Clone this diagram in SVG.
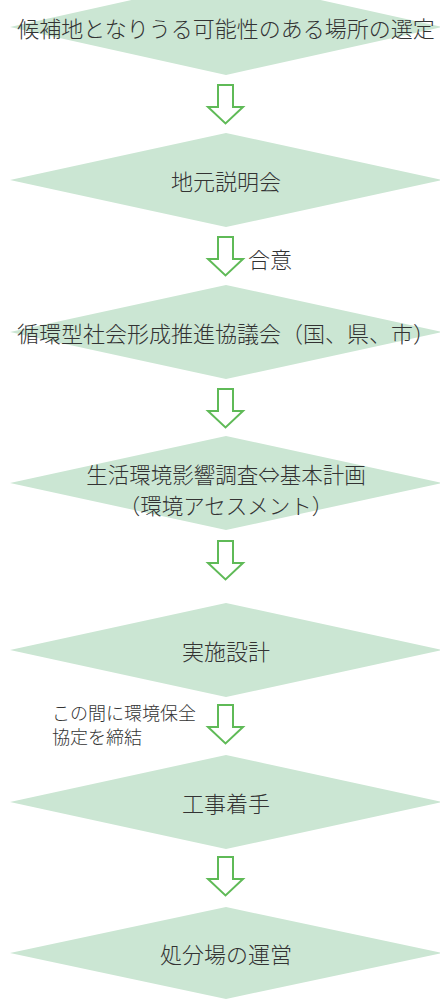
<svg xmlns="http://www.w3.org/2000/svg" width="440" height="999" viewBox="0 0 440 999">
<defs>
<style>
.d{fill:#cbe6d3;stroke:none}
.t{font-family:"Noto Sans CJK JP","Noto Sans",sans-serif;font-weight:300;font-size:22px;fill:#333;text-anchor:middle;dominant-baseline:central}
.n{font-family:"Noto Sans CJK JP","Noto Sans",sans-serif;font-weight:300;font-size:18px;fill:#333;dominant-baseline:central}
.a{fill:#fff;stroke:#5fba57;stroke-width:2;stroke-linejoin:miter}
</style>
<path id="arr" class="a" d="M218,0 H233 V22 H243 L225.5,38.5 L208,22 H218 Z"/>
</defs>
<rect width="440" height="999" fill="#fff"/>
<g id="connectors">
<use href="#arr" y="85"/>
<use href="#arr" y="237"/>
<use href="#arr" y="389"/>
<use href="#arr" y="541"/>
<use href="#arr" y="705"/>
<use href="#arr" y="857"/>
<text class="n" x="248" y="258" style="font-size:22px">合意</text>
<text class="n" x="52" y="712">この間に環境保全</text>
<text class="n" x="52" y="736">協定を締結</text>
</g>
<g id="n1"><polygon class="d" points="10,27 226,-21 442,27 226,75"/><text class="t" x="226" y="27">候補地となりうる可能性のある場所の選定</text></g>
<g id="n2"><polygon class="d" points="10,180 226,133 442,180 226,227"/><text class="t" x="226" y="180">地元説明会</text></g>
<g id="n3"><polygon class="d" points="10,332 226,285 442,332 226,379"/><text class="t" x="226" y="332">循環型社会形成推進協議会（国、県、市）</text></g>
<g id="n4"><polygon class="d" points="10,483 226,436 442,483 226,530"/><text class="t" x="226" y="473.5" style="font-size:21.5px">生活環境影響調査⇔基本計画</text><text class="t" x="226" y="504.5" style="font-size:21.5px">（環境アセスメント）</text></g>
<g id="n5"><polygon class="d" points="10,650 226,603 442,650 226,697"/><text class="t" x="226" y="650">実施設計</text></g>
<g id="n6"><polygon class="d" points="10,802 226,755 442,802 226,849"/><text class="t" x="226" y="802">工事着手</text></g>
<g id="n7"><polygon class="d" points="10,953 226,907 442,953 226,999"/><text class="t" x="226" y="953">処分場の運営</text></g>
</svg>
